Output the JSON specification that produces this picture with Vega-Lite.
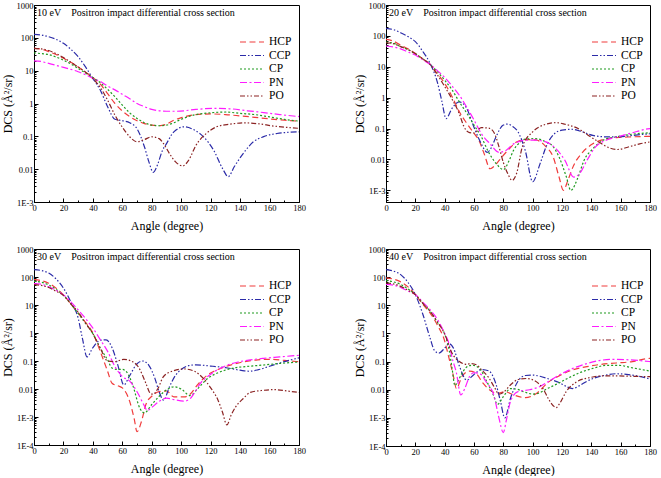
{
"$schema":"https://vega.github.io/schema/vega-lite/v6.json",
"padding":{"left":0,"top":0,"right":2,"bottom":0},
"config":{
 "font":"Liberation Serif",
 "view":{"stroke":"black","strokeWidth":1},
 "axis":{"grid":false,"domainColor":"black","tickColor":"black","labelColor":"black","titleColor":"black","labelFont":"Liberation Serif","titleFont":"Liberation Serif","labelFontSize":8.5,"titleFontSize":12,"titleFontWeight":"normal","tickSize":-4,"labelPadding":5},
 "axisX":{"titlePadding":9,"labelFlush":false},
 "axisY":{"titlePadding":2},
 "legend":{"labelFont":"Liberation Serif","labelFontSize":11.5,"labelColor":"black","symbolType":"M-2,0H2","symbolSize":144,"symbolStrokeWidth":1.5,"rowPadding":0.5,"labelOffset":10},
 "title":{"font":"Liberation Serif","fontSize":10,"fontWeight":"normal","color":"black","anchor":"start","frame":"group","baseline":"alphabetic","offset":-17,"dx":3},
 "line":{"strokeWidth":1.2,"interpolate":"monotone"}
},
"datasets":{
"d10":[
{"series":"HCP","angle":0,"dcs":48},{"series":"HCP","angle":5,"dcs":45},{"series":"HCP","angle":10,"dcs":38},{"series":"HCP","angle":15,"dcs":31},{"series":"HCP","angle":20,"dcs":24},{"series":"HCP","angle":25,"dcs":18},{"series":"HCP","angle":30,"dcs":13},{"series":"HCP","angle":35,"dcs":9},{"series":"HCP","angle":40,"dcs":6.2},{"series":"HCP","angle":45,"dcs":3.9},{"series":"HCP","angle":50,"dcs":2.0},{"series":"HCP","angle":55,"dcs":1.0},{"series":"HCP","angle":60,"dcs":0.59},{"series":"HCP","angle":65,"dcs":0.4},{"series":"HCP","angle":70,"dcs":0.3},{"series":"HCP","angle":75,"dcs":0.245},{"series":"HCP","angle":80,"dcs":0.22},{"series":"HCP","angle":85,"dcs":0.21},{"series":"HCP","angle":90,"dcs":0.235},{"series":"HCP","angle":95,"dcs":0.31},{"series":"HCP","angle":100,"dcs":0.37},{"series":"HCP","angle":110,"dcs":0.46},{"series":"HCP","angle":120,"dcs":0.48},{"series":"HCP","angle":130,"dcs":0.46},{"series":"HCP","angle":140,"dcs":0.42},{"series":"HCP","angle":150,"dcs":0.38},{"series":"HCP","angle":160,"dcs":0.34},{"series":"HCP","angle":170,"dcs":0.31},{"series":"HCP","angle":180,"dcs":0.29},
{"series":"CCP","angle":0,"dcs":128},{"series":"CCP","angle":5,"dcs":122},{"series":"CCP","angle":10,"dcs":108},{"series":"CCP","angle":15,"dcs":90},{"series":"CCP","angle":20,"dcs":68},{"series":"CCP","angle":25,"dcs":45},{"series":"CCP","angle":30,"dcs":26.6},{"series":"CCP","angle":35,"dcs":13},{"series":"CCP","angle":40,"dcs":5.8},{"series":"CCP","angle":45,"dcs":2.57},{"series":"CCP","angle":50,"dcs":0.8},{"series":"CCP","angle":55,"dcs":0.33},{"series":"CCP","angle":60,"dcs":0.3},{"series":"CCP","angle":65,"dcs":0.26},{"series":"CCP","angle":70,"dcs":0.17},{"series":"CCP","angle":75,"dcs":0.048},{"series":"CCP","angle":78,"dcs":0.017},{"series":"CCP","angle":81,"dcs":0.008},{"series":"CCP","angle":84,"dcs":0.014},{"series":"CCP","angle":87,"dcs":0.035},{"series":"CCP","angle":90,"dcs":0.06},{"series":"CCP","angle":95,"dcs":0.137},{"series":"CCP","angle":102,"dcs":0.195},{"series":"CCP","angle":109,"dcs":0.155},{"series":"CCP","angle":115,"dcs":0.098},{"series":"CCP","angle":122,"dcs":0.038},{"series":"CCP","angle":128,"dcs":0.0106},{"series":"CCP","angle":132,"dcs":0.0059},{"series":"CCP","angle":136,"dcs":0.0118},{"series":"CCP","angle":143,"dcs":0.034},{"series":"CCP","angle":149,"dcs":0.068},{"series":"CCP","angle":156,"dcs":0.098},{"series":"CCP","angle":165,"dcs":0.122},{"series":"CCP","angle":172,"dcs":0.132},{"series":"CCP","angle":180,"dcs":0.137},
{"series":"CP","angle":0,"dcs":35},{"series":"CP","angle":5,"dcs":33},{"series":"CP","angle":10,"dcs":31},{"series":"CP","angle":15,"dcs":26},{"series":"CP","angle":20,"dcs":21},{"series":"CP","angle":25,"dcs":16},{"series":"CP","angle":30,"dcs":11.7},{"series":"CP","angle":35,"dcs":8.5},{"series":"CP","angle":40,"dcs":6.2},{"series":"CP","angle":45,"dcs":4.3},{"series":"CP","angle":50,"dcs":2.7},{"series":"CP","angle":55,"dcs":1.6},{"series":"CP","angle":60,"dcs":0.89},{"series":"CP","angle":65,"dcs":0.52},{"series":"CP","angle":70,"dcs":0.35},{"series":"CP","angle":75,"dcs":0.26},{"series":"CP","angle":80,"dcs":0.22},{"series":"CP","angle":85,"dcs":0.21},{"series":"CP","angle":90,"dcs":0.22},{"series":"CP","angle":95,"dcs":0.26},{"series":"CP","angle":100,"dcs":0.33},{"series":"CP","angle":110,"dcs":0.46},{"series":"CP","angle":120,"dcs":0.52},{"series":"CP","angle":130,"dcs":0.55},{"series":"CP","angle":140,"dcs":0.5},{"series":"CP","angle":150,"dcs":0.46},{"series":"CP","angle":160,"dcs":0.39},{"series":"CP","angle":170,"dcs":0.33},{"series":"CP","angle":180,"dcs":0.29},
{"series":"PN","angle":0,"dcs":20},{"series":"PN","angle":5,"dcs":19},{"series":"PN","angle":10,"dcs":16.6},{"series":"PN","angle":15,"dcs":14.5},{"series":"PN","angle":20,"dcs":12.6},{"series":"PN","angle":25,"dcs":11},{"series":"PN","angle":30,"dcs":9.3},{"series":"PN","angle":35,"dcs":7.5},{"series":"PN","angle":40,"dcs":5.8},{"series":"PN","angle":45,"dcs":4.7},{"series":"PN","angle":50,"dcs":3.4},{"series":"PN","angle":55,"dcs":2.6},{"series":"PN","angle":60,"dcs":1.9},{"series":"PN","angle":65,"dcs":1.4},{"series":"PN","angle":70,"dcs":1.0},{"series":"PN","angle":75,"dcs":0.8},{"series":"PN","angle":80,"dcs":0.66},{"series":"PN","angle":85,"dcs":0.6},{"series":"PN","angle":90,"dcs":0.58},{"series":"PN","angle":97,"dcs":0.58},{"series":"PN","angle":110,"dcs":0.66},{"series":"PN","angle":122,"dcs":0.71},{"series":"PN","angle":133,"dcs":0.69},{"series":"PN","angle":145,"dcs":0.6},{"series":"PN","angle":156,"dcs":0.53},{"series":"PN","angle":167,"dcs":0.46},{"series":"PN","angle":180,"dcs":0.4},
{"series":"PO","angle":0,"dcs":48},{"series":"PO","angle":5,"dcs":46},{"series":"PO","angle":10,"dcs":41},{"series":"PO","angle":15,"dcs":33},{"series":"PO","angle":20,"dcs":25},{"series":"PO","angle":25,"dcs":18},{"series":"PO","angle":30,"dcs":13},{"series":"PO","angle":35,"dcs":9},{"series":"PO","angle":40,"dcs":5.8},{"series":"PO","angle":45,"dcs":3.1},{"series":"PO","angle":50,"dcs":1.26},{"series":"PO","angle":55,"dcs":0.44},{"series":"PO","angle":60,"dcs":0.19},{"series":"PO","angle":65,"dcs":0.097},{"series":"PO","angle":70,"dcs":0.068},{"series":"PO","angle":75,"dcs":0.08},{"series":"PO","angle":80,"dcs":0.097},{"series":"PO","angle":85,"dcs":0.085},{"series":"PO","angle":88,"dcs":0.06},{"series":"PO","angle":92,"dcs":0.03},{"series":"PO","angle":96,"dcs":0.017},{"series":"PO","angle":101,"dcs":0.0126},{"series":"PO","angle":105,"dcs":0.0186},{"series":"PO","angle":110,"dcs":0.053},{"series":"PO","angle":117,"dcs":0.122},{"series":"PO","angle":124,"dcs":0.195},{"series":"PO","angle":133,"dcs":0.234},{"series":"PO","angle":143,"dcs":0.257},{"series":"PO","angle":151,"dcs":0.245},{"series":"PO","angle":163,"dcs":0.205},{"series":"PO","angle":180,"dcs":0.175}
],
"d20":[
{"series":"HCP","angle":0,"dcs":77},{"series":"HCP","angle":5,"dcs":68},{"series":"HCP","angle":10,"dcs":50},{"series":"HCP","angle":15,"dcs":38},{"series":"HCP","angle":20,"dcs":27},{"series":"HCP","angle":25,"dcs":18},{"series":"HCP","angle":30,"dcs":12},{"series":"HCP","angle":35,"dcs":6},{"series":"HCP","angle":40,"dcs":2.9},{"series":"HCP","angle":45,"dcs":1.1},{"series":"HCP","angle":50,"dcs":0.35},{"series":"HCP","angle":55,"dcs":0.15},{"series":"HCP","angle":60,"dcs":0.07},{"series":"HCP","angle":63,"dcs":0.045},{"series":"HCP","angle":67,"dcs":0.015},{"series":"HCP","angle":71,"dcs":0.005},{"series":"HCP","angle":75,"dcs":0.007},{"series":"HCP","angle":79,"dcs":0.012},{"series":"HCP","angle":84,"dcs":0.022},{"series":"HCP","angle":89,"dcs":0.037},{"series":"HCP","angle":95,"dcs":0.044},{"series":"HCP","angle":102,"dcs":0.043},{"series":"HCP","angle":109,"dcs":0.026},{"series":"HCP","angle":114,"dcs":0.012},{"series":"HCP","angle":118,"dcs":0.0027},{"series":"HCP","angle":121,"dcs":0.001},{"series":"HCP","angle":124,"dcs":0.0021},{"series":"HCP","angle":128,"dcs":0.0065},{"series":"HCP","angle":134,"dcs":0.017},{"series":"HCP","angle":141,"dcs":0.032},{"series":"HCP","angle":148,"dcs":0.044},{"series":"HCP","angle":157,"dcs":0.051},{"series":"HCP","angle":168,"dcs":0.054},{"series":"HCP","angle":180,"dcs":0.056},
{"series":"CCP","angle":0,"dcs":175},{"series":"CCP","angle":5,"dcs":160},{"series":"CCP","angle":10,"dcs":126},{"series":"CCP","angle":15,"dcs":95},{"series":"CCP","angle":20,"dcs":65},{"series":"CCP","angle":25,"dcs":32},{"series":"CCP","angle":30,"dcs":13},{"series":"CCP","angle":35,"dcs":3.2},{"series":"CCP","angle":38,"dcs":0.8},{"series":"CCP","angle":41,"dcs":0.21},{"series":"CCP","angle":45,"dcs":0.45},{"series":"CCP","angle":50,"dcs":0.73},{"series":"CCP","angle":55,"dcs":0.45},{"series":"CCP","angle":60,"dcs":0.11},{"series":"CCP","angle":65,"dcs":0.032},{"series":"CCP","angle":69,"dcs":0.017},{"series":"CCP","angle":72,"dcs":0.025},{"series":"CCP","angle":75,"dcs":0.054},{"series":"CCP","angle":80,"dcs":0.13},{"series":"CCP","angle":83,"dcs":0.14},{"series":"CCP","angle":86,"dcs":0.12},{"series":"CCP","angle":90,"dcs":0.078},{"series":"CCP","angle":95,"dcs":0.019},{"series":"CCP","angle":100,"dcs":0.0019},{"series":"CCP","angle":105,"dcs":0.0072},{"series":"CCP","angle":110,"dcs":0.032},{"series":"CCP","angle":115,"dcs":0.069},{"series":"CCP","angle":120,"dcs":0.089},{"series":"CCP","angle":127,"dcs":0.095},{"series":"CCP","angle":134,"dcs":0.078},{"series":"CCP","angle":141,"dcs":0.06},{"series":"CCP","angle":150,"dcs":0.054},{"series":"CCP","angle":159,"dcs":0.054},{"series":"CCP","angle":168,"dcs":0.06},{"series":"CCP","angle":180,"dcs":0.068},
{"series":"CP","angle":0,"dcs":63},{"series":"CP","angle":5,"dcs":58},{"series":"CP","angle":10,"dcs":45},{"series":"CP","angle":15,"dcs":36},{"series":"CP","angle":20,"dcs":26},{"series":"CP","angle":25,"dcs":18},{"series":"CP","angle":30,"dcs":12},{"series":"CP","angle":35,"dcs":7},{"series":"CP","angle":40,"dcs":3.7},{"series":"CP","angle":45,"dcs":1.8},{"series":"CP","angle":50,"dcs":0.73},{"series":"CP","angle":56,"dcs":0.27},{"series":"CP","angle":60,"dcs":0.13},{"series":"CP","angle":65,"dcs":0.054},{"series":"CP","angle":70,"dcs":0.017},{"series":"CP","angle":76,"dcs":0.0066},{"series":"CP","angle":80,"dcs":0.0047},{"series":"CP","angle":84,"dcs":0.0093},{"series":"CP","angle":87,"dcs":0.02},{"series":"CP","angle":90,"dcs":0.031},{"series":"CP","angle":95,"dcs":0.046},{"series":"CP","angle":102,"dcs":0.047},{"series":"CP","angle":109,"dcs":0.037},{"series":"CP","angle":114,"dcs":0.026},{"series":"CP","angle":118,"dcs":0.012},{"series":"CP","angle":123,"dcs":0.0027},{"series":"CP","angle":126,"dcs":0.001},{"series":"CP","angle":131,"dcs":0.0027},{"series":"CP","angle":135,"dcs":0.0093},{"series":"CP","angle":141,"dcs":0.022},{"series":"CP","angle":148,"dcs":0.042},{"series":"CP","angle":157,"dcs":0.054},{"series":"CP","angle":168,"dcs":0.066},{"series":"CP","angle":180,"dcs":0.073},
{"series":"PN","angle":0,"dcs":47},{"series":"PN","angle":5,"dcs":44},{"series":"PN","angle":10,"dcs":38},{"series":"PN","angle":15,"dcs":30},{"series":"PN","angle":20,"dcs":24},{"series":"PN","angle":25,"dcs":17},{"series":"PN","angle":30,"dcs":12},{"series":"PN","angle":35,"dcs":7.5},{"series":"PN","angle":40,"dcs":4.5},{"series":"PN","angle":45,"dcs":2.4},{"series":"PN","angle":50,"dcs":1.2},{"series":"PN","angle":55,"dcs":0.5},{"series":"PN","angle":60,"dcs":0.19},{"series":"PN","angle":65,"dcs":0.069},{"series":"PN","angle":71,"dcs":0.032},{"series":"PN","angle":77,"dcs":0.017},{"series":"PN","angle":82,"dcs":0.02},{"series":"PN","angle":87,"dcs":0.032},{"series":"PN","angle":90,"dcs":0.037},{"series":"PN","angle":95,"dcs":0.042},{"series":"PN","angle":102,"dcs":0.042},{"series":"PN","angle":109,"dcs":0.037},{"series":"PN","angle":116,"dcs":0.022},{"series":"PN","angle":122,"dcs":0.0093},{"series":"PN","angle":128,"dcs":0.0027},{"series":"PN","angle":132,"dcs":0.0035},{"series":"PN","angle":137,"dcs":0.0093},{"series":"PN","angle":143,"dcs":0.026},{"series":"PN","angle":150,"dcs":0.042},{"series":"PN","angle":159,"dcs":0.056},{"series":"PN","angle":168,"dcs":0.073},{"series":"PN","angle":177,"dcs":0.095},{"series":"PN","angle":180,"dcs":0.1},
{"series":"PO","angle":0,"dcs":60},{"series":"PO","angle":5,"dcs":56},{"series":"PO","angle":10,"dcs":45},{"series":"PO","angle":15,"dcs":36},{"series":"PO","angle":20,"dcs":27},{"series":"PO","angle":25,"dcs":18},{"series":"PO","angle":30,"dcs":12},{"series":"PO","angle":35,"dcs":5.5},{"series":"PO","angle":40,"dcs":2.3},{"series":"PO","angle":45,"dcs":0.9},{"series":"PO","angle":50,"dcs":0.3},{"series":"PO","angle":53,"dcs":0.12},{"series":"PO","angle":57,"dcs":0.074},{"series":"PO","angle":60,"dcs":0.072},{"series":"PO","angle":65,"dcs":0.107},{"series":"PO","angle":70,"dcs":0.104},{"series":"PO","angle":74,"dcs":0.069},{"series":"PO","angle":77,"dcs":0.026},{"series":"PO","angle":80,"dcs":0.008},{"series":"PO","angle":83,"dcs":0.0035},{"series":"PO","angle":86,"dcs":0.0021},{"series":"PO","angle":89,"dcs":0.0035},{"series":"PO","angle":93,"dcs":0.026},{"series":"PO","angle":100,"dcs":0.078},{"series":"PO","angle":109,"dcs":0.138},{"series":"PO","angle":116,"dcs":0.155},{"series":"PO","angle":122,"dcs":0.138},{"series":"PO","angle":131,"dcs":0.1},{"series":"PO","angle":138,"dcs":0.06},{"series":"PO","angle":145,"dcs":0.037},{"series":"PO","angle":152,"dcs":0.024},{"series":"PO","angle":158,"dcs":0.021},{"series":"PO","angle":166,"dcs":0.026},{"series":"PO","angle":173,"dcs":0.032},{"series":"PO","angle":180,"dcs":0.037}
],
"d30":[
{"series":"HCP","angle":0,"dcs":80},{"series":"HCP","angle":5,"dcs":74},{"series":"HCP","angle":10,"dcs":60},{"series":"HCP","angle":15,"dcs":40},{"series":"HCP","angle":20,"dcs":23},{"series":"HCP","angle":25,"dcs":11},{"series":"HCP","angle":30,"dcs":5.2},{"series":"HCP","angle":35,"dcs":2.4},{"series":"HCP","angle":40,"dcs":1.0},{"series":"HCP","angle":45,"dcs":0.22},{"series":"HCP","angle":50,"dcs":0.043},{"series":"HCP","angle":53,"dcs":0.016},{"series":"HCP","angle":57,"dcs":0.013},{"series":"HCP","angle":60,"dcs":0.011},{"series":"HCP","angle":65,"dcs":0.0036},{"series":"HCP","angle":68,"dcs":0.0009},{"series":"HCP","angle":70,"dcs":0.0003},{"series":"HCP","angle":73,"dcs":0.0007},{"series":"HCP","angle":76,"dcs":0.0028},{"series":"HCP","angle":80,"dcs":0.0055},{"series":"HCP","angle":85,"dcs":0.008},{"series":"HCP","angle":90,"dcs":0.0085},{"series":"HCP","angle":95,"dcs":0.0052},{"series":"HCP","angle":102,"dcs":0.0052},{"series":"HCP","angle":106,"dcs":0.0065},{"series":"HCP","angle":111,"dcs":0.014},{"series":"HCP","angle":118,"dcs":0.032},{"series":"HCP","angle":125,"dcs":0.05},{"series":"HCP","angle":134,"dcs":0.073},{"series":"HCP","angle":143,"dcs":0.095},{"series":"HCP","angle":152,"dcs":0.11},{"series":"HCP","angle":161,"dcs":0.115},{"series":"HCP","angle":170,"dcs":0.105},{"series":"HCP","angle":180,"dcs":0.094},
{"series":"CCP","angle":0,"dcs":183},{"series":"CCP","angle":5,"dcs":170},{"series":"CCP","angle":10,"dcs":138},{"series":"CCP","angle":15,"dcs":85},{"series":"CCP","angle":20,"dcs":40},{"series":"CCP","angle":25,"dcs":13},{"series":"CCP","angle":30,"dcs":3.4},{"series":"CCP","angle":33,"dcs":0.6},{"series":"CCP","angle":36,"dcs":0.14},{"series":"CCP","angle":40,"dcs":0.3},{"series":"CCP","angle":45,"dcs":0.55},{"series":"CCP","angle":49,"dcs":0.57},{"series":"CCP","angle":53,"dcs":0.3},{"series":"CCP","angle":57,"dcs":0.07},{"series":"CCP","angle":61,"dcs":0.014},{"series":"CCP","angle":65,"dcs":0.03},{"series":"CCP","angle":70,"dcs":0.08},{"series":"CCP","angle":74,"dcs":0.1},{"series":"CCP","angle":78,"dcs":0.07},{"series":"CCP","angle":82,"dcs":0.025},{"series":"CCP","angle":85,"dcs":0.008},{"series":"CCP","angle":88,"dcs":0.004},{"series":"CCP","angle":92,"dcs":0.012},{"series":"CCP","angle":96,"dcs":0.03},{"series":"CCP","angle":100,"dcs":0.05},{"series":"CCP","angle":105,"dcs":0.068},{"series":"CCP","angle":110,"dcs":0.073},{"series":"CCP","angle":120,"dcs":0.066},{"series":"CCP","angle":130,"dcs":0.058},{"series":"CCP","angle":140,"dcs":0.047},{"series":"CCP","angle":146,"dcs":0.043},{"series":"CCP","angle":152,"dcs":0.048},{"series":"CCP","angle":160,"dcs":0.065},{"series":"CCP","angle":170,"dcs":0.095},{"series":"CCP","angle":180,"dcs":0.13},
{"series":"CP","angle":0,"dcs":70},{"series":"CP","angle":5,"dcs":65},{"series":"CP","angle":10,"dcs":52},{"series":"CP","angle":15,"dcs":36},{"series":"CP","angle":20,"dcs":22},{"series":"CP","angle":25,"dcs":11},{"series":"CP","angle":30,"dcs":5},{"series":"CP","angle":35,"dcs":2.2},{"series":"CP","angle":40,"dcs":0.94},{"series":"CP","angle":45,"dcs":0.29},{"series":"CP","angle":50,"dcs":0.11},{"series":"CP","angle":53,"dcs":0.056},{"series":"CP","angle":57,"dcs":0.05},{"series":"CP","angle":60,"dcs":0.05},{"series":"CP","angle":63,"dcs":0.04},{"series":"CP","angle":67,"dcs":0.014},{"series":"CP","angle":72,"dcs":0.002},{"series":"CP","angle":75,"dcs":0.0014},{"series":"CP","angle":80,"dcs":0.0028},{"series":"CP","angle":85,"dcs":0.0055},{"series":"CP","angle":90,"dcs":0.0093},{"series":"CP","angle":95,"dcs":0.012},{"series":"CP","angle":100,"dcs":0.01},{"series":"CP","angle":106,"dcs":0.0058},{"series":"CP","angle":111,"dcs":0.01},{"series":"CP","angle":118,"dcs":0.024},{"series":"CP","angle":125,"dcs":0.038},{"series":"CP","angle":134,"dcs":0.054},{"series":"CP","angle":145,"dcs":0.064},{"series":"CP","angle":156,"dcs":0.072},{"series":"CP","angle":167,"dcs":0.082},{"series":"CP","angle":180,"dcs":0.092},
{"series":"PN","angle":0,"dcs":58},{"series":"PN","angle":5,"dcs":55},{"series":"PN","angle":10,"dcs":45},{"series":"PN","angle":15,"dcs":33},{"series":"PN","angle":20,"dcs":23},{"series":"PN","angle":25,"dcs":13},{"series":"PN","angle":30,"dcs":6.7},{"series":"PN","angle":35,"dcs":3.3},{"series":"PN","angle":40,"dcs":1.5},{"series":"PN","angle":45,"dcs":0.58},{"series":"PN","angle":50,"dcs":0.22},{"series":"PN","angle":55,"dcs":0.063},{"series":"PN","angle":60,"dcs":0.028},{"series":"PN","angle":65,"dcs":0.019},{"series":"PN","angle":70,"dcs":0.008},{"series":"PN","angle":75,"dcs":0.0025},{"series":"PN","angle":77,"dcs":0.0017},{"series":"PN","angle":80,"dcs":0.0022},{"series":"PN","angle":85,"dcs":0.0036},{"series":"PN","angle":90,"dcs":0.0047},{"series":"PN","angle":95,"dcs":0.0042},{"series":"PN","angle":102,"dcs":0.0037},{"series":"PN","angle":106,"dcs":0.0045},{"series":"PN","angle":109,"dcs":0.0073},{"series":"PN","angle":113,"dcs":0.016},{"series":"PN","angle":118,"dcs":0.028},{"series":"PN","angle":125,"dcs":0.05},{"series":"PN","angle":131,"dcs":0.07},{"series":"PN","angle":138,"dcs":0.09},{"series":"PN","angle":147,"dcs":0.11},{"series":"PN","angle":156,"dcs":0.125},{"series":"PN","angle":167,"dcs":0.14},{"series":"PN","angle":180,"dcs":0.16},
{"series":"PO","angle":0,"dcs":53},{"series":"PO","angle":5,"dcs":50},{"series":"PO","angle":10,"dcs":42},{"series":"PO","angle":15,"dcs":31},{"series":"PO","angle":20,"dcs":22},{"series":"PO","angle":25,"dcs":11},{"series":"PO","angle":30,"dcs":5.5},{"series":"PO","angle":35,"dcs":2.3},{"series":"PO","angle":40,"dcs":0.94},{"series":"PO","angle":45,"dcs":0.29},{"series":"PO","angle":50,"dcs":0.1},{"series":"PO","angle":55,"dcs":0.095},{"series":"PO","angle":61,"dcs":0.115},{"series":"PO","angle":66,"dcs":0.1},{"series":"PO","angle":71,"dcs":0.06},{"series":"PO","angle":76,"dcs":0.016},{"series":"PO","angle":79,"dcs":0.007},{"series":"PO","angle":81,"dcs":0.0065},{"series":"PO","angle":84,"dcs":0.01},{"series":"PO","angle":88,"dcs":0.028},{"series":"PO","angle":95,"dcs":0.045},{"series":"PO","angle":102,"dcs":0.052},{"series":"PO","angle":109,"dcs":0.043},{"series":"PO","angle":115,"dcs":0.024},{"series":"PO","angle":120,"dcs":0.011},{"series":"PO","angle":125,"dcs":0.004},{"series":"PO","angle":128,"dcs":0.0015},{"series":"PO","angle":131,"dcs":0.00052},{"series":"PO","angle":134,"dcs":0.0012},{"series":"PO","angle":137,"dcs":0.0023},{"series":"PO","angle":142,"dcs":0.0045},{"series":"PO","angle":147,"dcs":0.0076},{"series":"PO","angle":156,"dcs":0.009},{"series":"PO","angle":163,"dcs":0.0095},{"series":"PO","angle":172,"dcs":0.0085},{"series":"PO","angle":180,"dcs":0.0075}
],
"d40":[
{"series":"HCP","angle":0,"dcs":94},{"series":"HCP","angle":5,"dcs":85},{"series":"HCP","angle":10,"dcs":68},{"series":"HCP","angle":15,"dcs":45},{"series":"HCP","angle":20,"dcs":24},{"series":"HCP","angle":25,"dcs":11},{"series":"HCP","angle":30,"dcs":5.4},{"series":"HCP","angle":35,"dcs":2},{"series":"HCP","angle":40,"dcs":0.54},{"series":"HCP","angle":43,"dcs":0.13},{"series":"HCP","angle":46,"dcs":0.03},{"series":"HCP","angle":48,"dcs":0.011},{"series":"HCP","angle":52,"dcs":0.031},{"series":"HCP","angle":57,"dcs":0.046},{"series":"HCP","angle":61,"dcs":0.04},{"series":"HCP","angle":66,"dcs":0.0175},{"series":"HCP","angle":72,"dcs":0.0088},{"series":"HCP","angle":76,"dcs":0.0075},{"series":"HCP","angle":81,"dcs":0.0085},{"series":"HCP","angle":87,"dcs":0.0065},{"series":"HCP","angle":95,"dcs":0.0052},{"series":"HCP","angle":102,"dcs":0.007},{"series":"HCP","angle":111,"dcs":0.019},{"series":"HCP","angle":118,"dcs":0.031},{"series":"HCP","angle":127,"dcs":0.05},{"series":"HCP","angle":137,"dcs":0.066},{"series":"HCP","angle":146,"dcs":0.079},{"series":"HCP","angle":157,"dcs":0.089},{"series":"HCP","angle":168,"dcs":0.1},{"series":"HCP","angle":177,"dcs":0.125},{"series":"HCP","angle":180,"dcs":0.13},
{"series":"CCP","angle":0,"dcs":185},{"series":"CCP","angle":5,"dcs":165},{"series":"CCP","angle":10,"dcs":123},{"series":"CCP","angle":15,"dcs":65},{"series":"CCP","angle":20,"dcs":24},{"series":"CCP","angle":25,"dcs":5},{"series":"CCP","angle":30,"dcs":0.7},{"series":"CCP","angle":33,"dcs":0.25},{"series":"CCP","angle":36,"dcs":0.2},{"series":"CCP","angle":40,"dcs":0.3},{"series":"CCP","angle":43,"dcs":0.43},{"series":"CCP","angle":46,"dcs":0.3},{"series":"CCP","angle":50,"dcs":0.07},{"series":"CCP","angle":55,"dcs":0.022},{"series":"CCP","angle":60,"dcs":0.035},{"series":"CCP","angle":65,"dcs":0.052},{"series":"CCP","angle":70,"dcs":0.047},{"series":"CCP","angle":75,"dcs":0.0157},{"series":"CCP","angle":78,"dcs":0.004},{"series":"CCP","angle":81,"dcs":0.001},{"series":"CCP","angle":85,"dcs":0.0052},{"series":"CCP","angle":90,"dcs":0.02},{"series":"CCP","angle":95,"dcs":0.032},{"series":"CCP","angle":100,"dcs":0.033},{"series":"CCP","angle":105,"dcs":0.03},{"series":"CCP","angle":111,"dcs":0.024},{"series":"CCP","angle":118,"dcs":0.018},{"series":"CCP","angle":123,"dcs":0.013},{"series":"CCP","angle":127,"dcs":0.011},{"series":"CCP","angle":132,"dcs":0.014},{"series":"CCP","angle":137,"dcs":0.02},{"series":"CCP","angle":143,"dcs":0.027},{"series":"CCP","angle":150,"dcs":0.033},{"series":"CCP","angle":157,"dcs":0.037},{"series":"CCP","angle":164,"dcs":0.035},{"series":"CCP","angle":171,"dcs":0.031},{"series":"CCP","angle":180,"dcs":0.024},
{"series":"CP","angle":0,"dcs":75},{"series":"CP","angle":5,"dcs":68},{"series":"CP","angle":10,"dcs":55},{"series":"CP","angle":15,"dcs":38},{"series":"CP","angle":20,"dcs":24},{"series":"CP","angle":25,"dcs":12},{"series":"CP","angle":30,"dcs":6.2},{"series":"CP","angle":35,"dcs":2.5},{"series":"CP","angle":40,"dcs":0.94},{"series":"CP","angle":43,"dcs":0.27},{"series":"CP","angle":45,"dcs":0.06},{"series":"CP","angle":47,"dcs":0.014},{"series":"CP","angle":49,"dcs":0.02},{"series":"CP","angle":52,"dcs":0.04},{"series":"CP","angle":56,"dcs":0.069},{"series":"CP","angle":59,"dcs":0.074},{"series":"CP","angle":64,"dcs":0.055},{"series":"CP","angle":68,"dcs":0.023},{"series":"CP","angle":73,"dcs":0.0069},{"series":"CP","angle":76,"dcs":0.003},{"series":"CP","angle":80,"dcs":0.0057},{"series":"CP","angle":85,"dcs":0.011},{"series":"CP","angle":89,"dcs":0.0105},{"series":"CP","angle":95,"dcs":0.0081},{"series":"CP","angle":100,"dcs":0.007},{"series":"CP","angle":104,"dcs":0.0075},{"series":"CP","angle":110,"dcs":0.011},{"series":"CP","angle":116,"dcs":0.0155},{"series":"CP","angle":123,"dcs":0.024},{"series":"CP","angle":132,"dcs":0.04},{"series":"CP","angle":141,"dcs":0.057},{"series":"CP","angle":150,"dcs":0.073},{"series":"CP","angle":159,"dcs":0.073},{"series":"CP","angle":168,"dcs":0.06},{"series":"CP","angle":180,"dcs":0.046},
{"series":"PN","angle":0,"dcs":55},{"series":"PN","angle":5,"dcs":52},{"series":"PN","angle":10,"dcs":43},{"series":"PN","angle":15,"dcs":32},{"series":"PN","angle":20,"dcs":24},{"series":"PN","angle":25,"dcs":13},{"series":"PN","angle":30,"dcs":7},{"series":"PN","angle":35,"dcs":3.2},{"series":"PN","angle":40,"dcs":1.0},{"series":"PN","angle":43,"dcs":0.42},{"series":"PN","angle":45,"dcs":0.14},{"series":"PN","angle":48,"dcs":0.04},{"series":"PN","angle":51,"dcs":0.0065},{"series":"PN","angle":54,"dcs":0.012},{"series":"PN","angle":57,"dcs":0.03},{"series":"PN","angle":60,"dcs":0.04},{"series":"PN","angle":64,"dcs":0.037},{"series":"PN","angle":68,"dcs":0.02},{"series":"PN","angle":74,"dcs":0.0052},{"series":"PN","angle":77,"dcs":0.001},{"series":"PN","angle":80,"dcs":0.0003},{"series":"PN","angle":82,"dcs":0.0008},{"series":"PN","angle":85,"dcs":0.004},{"series":"PN","angle":90,"dcs":0.0086},{"series":"PN","angle":98,"dcs":0.01},{"series":"PN","angle":105,"dcs":0.013},{"series":"PN","angle":111,"dcs":0.02},{"series":"PN","angle":118,"dcs":0.033},{"series":"PN","angle":127,"dcs":0.056},{"series":"PN","angle":137,"dcs":0.085},{"series":"PN","angle":146,"dcs":0.11},{"series":"PN","angle":154,"dcs":0.12},{"series":"PN","angle":166,"dcs":0.115},{"series":"PN","angle":180,"dcs":0.1},
{"series":"PO","angle":0,"dcs":62},{"series":"PO","angle":5,"dcs":58},{"series":"PO","angle":10,"dcs":47},{"series":"PO","angle":15,"dcs":34},{"series":"PO","angle":20,"dcs":24},{"series":"PO","angle":25,"dcs":12},{"series":"PO","angle":30,"dcs":6.2},{"series":"PO","angle":35,"dcs":2.6},{"series":"PO","angle":40,"dcs":0.96},{"series":"PO","angle":45,"dcs":0.2},{"series":"PO","angle":50,"dcs":0.1},{"series":"PO","angle":55,"dcs":0.08},{"series":"PO","angle":58,"dcs":0.085},{"series":"PO","angle":62,"dcs":0.075},{"series":"PO","angle":65,"dcs":0.052},{"series":"PO","angle":70,"dcs":0.027},{"series":"PO","angle":74,"dcs":0.012},{"series":"PO","angle":77,"dcs":0.007},{"series":"PO","angle":80,"dcs":0.008},{"series":"PO","angle":85,"dcs":0.015},{"series":"PO","angle":90,"dcs":0.023},{"series":"PO","angle":96,"dcs":0.025},{"series":"PO","angle":102,"dcs":0.02},{"series":"PO","angle":107,"dcs":0.011},{"series":"PO","angle":111,"dcs":0.0045},{"series":"PO","angle":114,"dcs":0.0027},{"series":"PO","angle":116,"dcs":0.0023},{"series":"PO","angle":118,"dcs":0.003},{"series":"PO","angle":123,"dcs":0.0088},{"series":"PO","angle":130,"dcs":0.019},{"series":"PO","angle":139,"dcs":0.027},{"series":"PO","angle":148,"dcs":0.031},{"series":"PO","angle":157,"dcs":0.031},{"series":"PO","angle":168,"dcs":0.03},{"series":"PO","angle":180,"dcs":0.029}
]
},
"spacing":12,
"resolve":{"scale":{"x":"independent","y":"independent","color":"independent","strokeDash":"independent"},"legend":{"color":"independent","strokeDash":"independent"}},
"vconcat":[
{"spacing":46,
 "resolve":{"scale":{"x":"independent","y":"independent","color":"independent","strokeDash":"independent"},"legend":{"color":"independent","strokeDash":"independent"}},
 "hconcat":[
 {"width":265,"height":197,"data":{"name":"d10"},
  "title":{"text":"10 eV\u00a0\u00a0\u00a0\u00a0Positron impact differential cross section"},
  "resolve":{"axis":{"x":"independent","y":"independent"}},
  "layer":[
  {"mark":{"type":"line"},
  "encoding":{
   "x":{"field":"angle","type":"quantitative","scale":{"domain":[0,180],"nice":false},"axis":{"values":[0,20,40,60,80,100,120,140,160,180],"title":"Angle (degree)"}},
   "y":{"field":"dcs","type":"quantitative","scale":{"type":"log","domain":[0.001,1000],"nice":false},"axis":{"values":[0.001,0.01,0.1,1,10,100,1000],"labelExpr":"datum.value < 0.0005 ? '1E-4' : datum.value < 0.005 ? '1E-3' : format(datum.value, '~g')","title":"DCS (Å²/sr)"}},
   "color":{"field":"series","type":"nominal","scale":{"domain":["HCP","CCP","CP","PN","PO"],"range":["#F03C3C","#2B2BA8","#1F9A1F","#FF1CFF","#8B2323"]},"legend":{"title":null,"orient":"none","legendX":211,"legendY":30,"encode":{"symbols":{"update":{"strokeDash":{"signal":"datum.value === 'HCP' ? [6,3.5] : datum.value === 'CCP' ? [6,2,1.5,2,1.5,2] : datum.value === 'CP' ? [2,2] : datum.value === 'PN' ? [7,2.5,2,2.5] : [5,2,1.5,2,1.5,2]"}}}}}},
   "strokeDash":{"field":"series","type":"nominal","scale":{"domain":["HCP","CCP","CP","PN","PO"],"range":[[6,3.5],[6,2,1.5,2,1.5,2],[2,2],[7,2.5,2,2.5],[5,2,1.5,2,1.5,2]]},"legend":null}
  }},
  {"mark":{"type":"point","opacity":0},
  "encoding":{
   "x":{"field":"angle","type":"quantitative","scale":{"domain":[0,180],"nice":false},"axis":{"values":[10,30,50,70,90,110,130,150,170],"labels":false,"domain":false,"title":null,"tickSize":-2,"orient":"bottom"}},
   "y":{"field":"dcs","type":"quantitative","scale":{"type":"log","domain":[0.001,1000],"nice":false},"axis":{"values":[0.002,0.003,0.004,0.005,0.006,0.007,0.008,0.009,0.02,0.03,0.04,0.05,0.06,0.07,0.08,0.09,0.2,0.3,0.4,0.5,0.6,0.7,0.8,0.9,2,3,4,5,6,7,8,9,20,30,40,50,60,70,80,90,200,300,400,500,600,700,800,900],"labels":false,"domain":false,"title":null,"tickSize":-2,"orient":"left"}}
  }}
  ]},
 {"width":264,"height":197,"data":{"name":"d20"},
  "title":{"text":"20 eV\u00a0\u00a0\u00a0\u00a0Positron impact differential cross section"},
  "resolve":{"axis":{"x":"independent","y":"independent"}},
  "layer":[
  {"mark":{"type":"line"},
  "encoding":{
   "x":{"field":"angle","type":"quantitative","scale":{"domain":[0,180],"nice":false},"axis":{"values":[0,20,40,60,80,100,120,140,160,180],"title":"Angle (degree)"}},
   "y":{"field":"dcs","type":"quantitative","scale":{"type":"log","domain":[0.00042,1000],"nice":false},"axis":{"values":[0.001,0.01,0.1,1,10,100,1000],"labelExpr":"datum.value < 0.0005 ? '1E-4' : datum.value < 0.005 ? '1E-3' : format(datum.value, '~g')","title":"DCS (Å²/sr)"}},
   "color":{"field":"series","type":"nominal","scale":{"domain":["HCP","CCP","CP","PN","PO"],"range":["#F03C3C","#2B2BA8","#1F9A1F","#FF1CFF","#8B2323"]},"legend":{"title":null,"orient":"none","legendX":211,"legendY":30,"encode":{"symbols":{"update":{"strokeDash":{"signal":"datum.value === 'HCP' ? [6,3.5] : datum.value === 'CCP' ? [6,2,1.5,2,1.5,2] : datum.value === 'CP' ? [2,2] : datum.value === 'PN' ? [7,2.5,2,2.5] : [5,2,1.5,2,1.5,2]"}}}}}},
   "strokeDash":{"field":"series","type":"nominal","scale":{"domain":["HCP","CCP","CP","PN","PO"],"range":[[6,3.5],[6,2,1.5,2,1.5,2],[2,2],[7,2.5,2,2.5],[5,2,1.5,2,1.5,2]]},"legend":null}
  }},
  {"mark":{"type":"point","opacity":0},
  "encoding":{
   "x":{"field":"angle","type":"quantitative","scale":{"domain":[0,180],"nice":false},"axis":{"values":[10,30,50,70,90,110,130,150,170],"labels":false,"domain":false,"title":null,"tickSize":-2,"orient":"bottom"}},
   "y":{"field":"dcs","type":"quantitative","scale":{"type":"log","domain":[0.00042,1000],"nice":false},"axis":{"values":[0.0005,0.0006,0.0007,0.0008,0.0009,0.002,0.003,0.004,0.005,0.006,0.007,0.008,0.009,0.02,0.03,0.04,0.05,0.06,0.07,0.08,0.09,0.2,0.3,0.4,0.5,0.6,0.7,0.8,0.9,2,3,4,5,6,7,8,9,20,30,40,50,60,70,80,90,200,300,400,500,600,700,800,900],"labels":false,"domain":false,"title":null,"tickSize":-2,"orient":"left"}}
  }}
  ]}
 ]},
{"spacing":46,
 "resolve":{"scale":{"x":"independent","y":"independent","color":"independent","strokeDash":"independent"},"legend":{"color":"independent","strokeDash":"independent"}},
 "hconcat":[
 {"width":265,"height":196,"data":{"name":"d30"},
  "title":{"text":"30 eV\u00a0\u00a0\u00a0\u00a0Positron impact differential cross section"},
  "resolve":{"axis":{"x":"independent","y":"independent"}},
  "layer":[
  {"mark":{"type":"line"},
  "encoding":{
   "x":{"field":"angle","type":"quantitative","scale":{"domain":[0,180],"nice":false},"axis":{"values":[0,20,40,60,80,100,120,140,160,180],"title":"Angle (degree)"}},
   "y":{"field":"dcs","type":"quantitative","scale":{"type":"log","domain":[0.0001,1000],"nice":false},"axis":{"values":[0.0001,0.001,0.01,0.1,1,10,100,1000],"labelExpr":"datum.value < 0.0005 ? '1E-4' : datum.value < 0.005 ? '1E-3' : format(datum.value, '~g')","title":"DCS (Å²/sr)"}},
   "color":{"field":"series","type":"nominal","scale":{"domain":["HCP","CCP","CP","PN","PO"],"range":["#F03C3C","#2B2BA8","#1F9A1F","#FF1CFF","#8B2323"]},"legend":{"title":null,"orient":"none","legendX":211,"legendY":30,"encode":{"symbols":{"update":{"strokeDash":{"signal":"datum.value === 'HCP' ? [6,3.5] : datum.value === 'CCP' ? [6,2,1.5,2,1.5,2] : datum.value === 'CP' ? [2,2] : datum.value === 'PN' ? [7,2.5,2,2.5] : [5,2,1.5,2,1.5,2]"}}}}}},
   "strokeDash":{"field":"series","type":"nominal","scale":{"domain":["HCP","CCP","CP","PN","PO"],"range":[[6,3.5],[6,2,1.5,2,1.5,2],[2,2],[7,2.5,2,2.5],[5,2,1.5,2,1.5,2]]},"legend":null}
  }},
  {"mark":{"type":"point","opacity":0},
  "encoding":{
   "x":{"field":"angle","type":"quantitative","scale":{"domain":[0,180],"nice":false},"axis":{"values":[10,30,50,70,90,110,130,150,170],"labels":false,"domain":false,"title":null,"tickSize":-2,"orient":"bottom"}},
   "y":{"field":"dcs","type":"quantitative","scale":{"type":"log","domain":[0.0001,1000],"nice":false},"axis":{"values":[0.0002,0.0003,0.0004,0.0005,0.0006,0.0007,0.0008,0.0009,0.002,0.003,0.004,0.005,0.006,0.007,0.008,0.009,0.02,0.03,0.04,0.05,0.06,0.07,0.08,0.09,0.2,0.3,0.4,0.5,0.6,0.7,0.8,0.9,2,3,4,5,6,7,8,9,20,30,40,50,60,70,80,90,200,300,400,500,600,700,800,900],"labels":false,"domain":false,"title":null,"tickSize":-2,"orient":"left"}}
  }}
  ]},
 {"width":264,"height":197,"data":{"name":"d40"},
  "title":{"text":"40 eV\u00a0\u00a0\u00a0\u00a0Positron impact differential cross section"},
  "resolve":{"axis":{"x":"independent","y":"independent"}},
  "layer":[
  {"mark":{"type":"line"},
  "encoding":{
   "x":{"field":"angle","type":"quantitative","scale":{"domain":[0,180],"nice":false},"axis":{"values":[0,20,40,60,80,100,120,140,160,180],"title":"Angle (degree)"}},
   "y":{"field":"dcs","type":"quantitative","scale":{"type":"log","domain":[0.0001,1000],"nice":false},"axis":{"values":[0.0001,0.001,0.01,0.1,1,10,100,1000],"labelExpr":"datum.value < 0.0005 ? '1E-4' : datum.value < 0.005 ? '1E-3' : format(datum.value, '~g')","title":"DCS (Å²/sr)"}},
   "color":{"field":"series","type":"nominal","scale":{"domain":["HCP","CCP","CP","PN","PO"],"range":["#F03C3C","#2B2BA8","#1F9A1F","#FF1CFF","#8B2323"]},"legend":{"title":null,"orient":"none","legendX":211,"legendY":30,"encode":{"symbols":{"update":{"strokeDash":{"signal":"datum.value === 'HCP' ? [6,3.5] : datum.value === 'CCP' ? [6,2,1.5,2,1.5,2] : datum.value === 'CP' ? [2,2] : datum.value === 'PN' ? [7,2.5,2,2.5] : [5,2,1.5,2,1.5,2]"}}}}}},
   "strokeDash":{"field":"series","type":"nominal","scale":{"domain":["HCP","CCP","CP","PN","PO"],"range":[[6,3.5],[6,2,1.5,2,1.5,2],[2,2],[7,2.5,2,2.5],[5,2,1.5,2,1.5,2]]},"legend":null}
  }},
  {"mark":{"type":"point","opacity":0},
  "encoding":{
   "x":{"field":"angle","type":"quantitative","scale":{"domain":[0,180],"nice":false},"axis":{"values":[10,30,50,70,90,110,130,150,170],"labels":false,"domain":false,"title":null,"tickSize":-2,"orient":"bottom"}},
   "y":{"field":"dcs","type":"quantitative","scale":{"type":"log","domain":[0.0001,1000],"nice":false},"axis":{"values":[0.0002,0.0003,0.0004,0.0005,0.0006,0.0007,0.0008,0.0009,0.002,0.003,0.004,0.005,0.006,0.007,0.008,0.009,0.02,0.03,0.04,0.05,0.06,0.07,0.08,0.09,0.2,0.3,0.4,0.5,0.6,0.7,0.8,0.9,2,3,4,5,6,7,8,9,20,30,40,50,60,70,80,90,200,300,400,500,600,700,800,900],"labels":false,"domain":false,"title":null,"tickSize":-2,"orient":"left"}}
  }}
  ]}
 ]}
]
}
